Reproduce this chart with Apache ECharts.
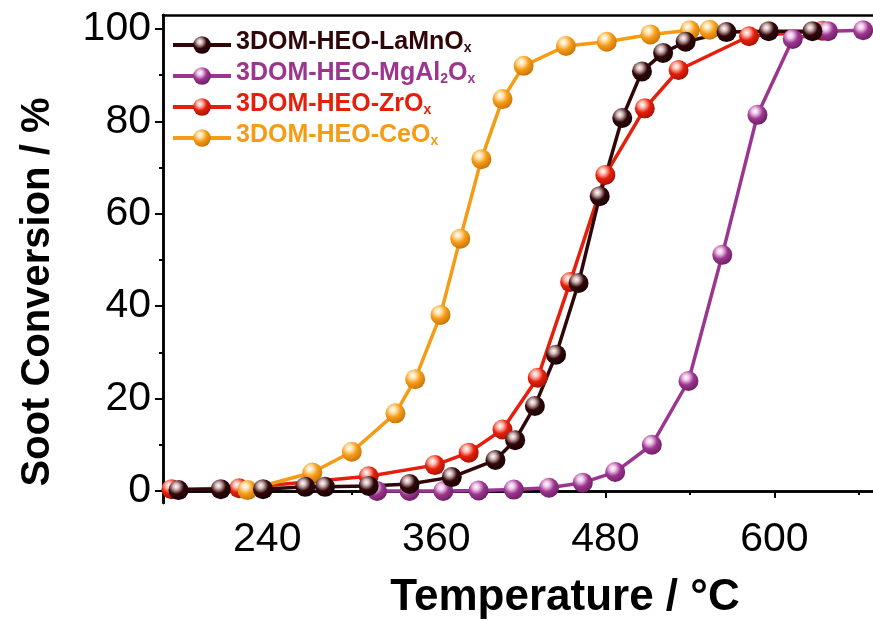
<!DOCTYPE html>
<html>
<head>
<meta charset="utf-8">
<script src="https://cdn.jsdelivr.net/npm/echarts@6/dist/echarts.min.js"></script>
<style>html,body{margin:0;padding:0;background:#fff}#main{width:873px;height:621px}</style>
</head>
<body>
<div id="main"></div>
<script>
// temperatures (°C) and soot conversion (%) for each sample
var tempLaMn = [177, 207, 237, 267, 281, 312, 341, 371, 402, 416, 430, 445, 461, 476, 492, 506, 521, 537, 566, 596, 627];
var convLaMn = [0.2, 0.4, 0.4, 0.9, 0.9, 1.1, 1.5, 3.0, 6.7, 11, 18.4, 29.5, 45, 63.8, 80.7, 90.8, 94.8, 97.2, 99.3, 99.5, 99.5];
var tempMgAl = [318, 341, 365, 390, 415, 440, 464, 487, 513, 539, 563, 588, 613, 638, 663];
var convMgAl = [0, 0, 0, 0.1, 0.3, 0.7, 1.8, 4.1, 10, 23.8, 51.1, 81.4, 97.8, 99.5, 99.7];
var tempZr = [172, 220, 312, 359, 383, 407, 432, 455, 480, 508, 532, 582, 634];
var convZr = [0.4, 0.6, 3.2, 5.6, 8.3, 13.3, 24.5, 45.2, 68.4, 82.8, 91.1, 98.4, 99.6];
var tempCe = [226, 272, 300, 331, 345, 363, 377, 392, 407, 422, 452, 481, 512, 540, 554];
var convCe = [0.2, 4.0, 8.5, 16.8, 24.2, 38.1, 54.6, 71.8, 84.8, 92.0, 96.3, 97.2, 98.8, 99.7, 99.8];

var xMajor = [240, 360, 480, 600];
var xMinor = [180, 300, 420, 540, 660];
var yMajor = [0, 20, 40, 60, 80, 100];
var yMinor = [10, 30, 50, 70, 90];

var names = ['3DOM-HEO-LaMnOx', '3DOM-HEO-MgAl2Ox', '3DOM-HEO-ZrOx', '3DOM-HEO-CeOx'];
var lineColors = ['#300709', '#9c358f', '#e51f0b', '#f59b14'];
var ballLight = ['#d2b4b6', '#efc4e8', '#fdbdb2', '#fde3b0'];
var ballDark = ['#1a0204', '#6e1f64', '#a81204', '#c9740a'];
var FONT = 'Liberation Sans, Arial, sans-serif';

function pairs(xs, ys) {
    return xs.map(function (x, i) { return [x, ys[i]]; });
}

function ball(i) {
    return new echarts.graphic.RadialGradient(0.38, 0.32, 0.7, [
        { offset: 0, color: '#ffffff' },
        { offset: 0.22, color: ballLight[i] },
        { offset: 0.55, color: lineColors[i] },
        { offset: 1, color: ballDark[i] }
    ]);
}

function makeSeries(i, xs, ys) {
    return {
        name: names[i],
        type: 'line',
        data: pairs(xs, ys),
        symbol: 'circle',
        symbolSize: 20,
        lineStyle: { color: lineColors[i], width: 3.5 },
        itemStyle: { color: ball(i), borderWidth: 0 },
        clip: false
    };
}

var legendText = {
    '3DOM-HEO-LaMnOx': '{a0|3DOM-HEO-LaMnO}{s0|x}',
    '3DOM-HEO-MgAl2Ox': '{a1|3DOM-HEO-MgAl}{s1|2}{a1|O}{s1|x}',
    '3DOM-HEO-ZrOx': '{a2|3DOM-HEO-ZrO}{s2|x}',
    '3DOM-HEO-CeOx': '{a3|3DOM-HEO-CeO}{s3|x}'
};
var rich = {};
lineColors.forEach(function (c, i) {
    rich['a' + i] = { color: c, fontSize: 25, fontWeight: 'bold', fontFamily: FONT, verticalAlign: 'bottom', lineHeight: 20 };
    rich['s' + i] = { color: c, fontSize: 14, fontWeight: 'bold', fontFamily: FONT, verticalAlign: 'bottom', lineHeight: 16 };
});

var axisLine = { show: true, lineStyle: { color: '#000', width: 2.5 } };

var myChart = echarts.init(document.getElementById('main'));
var option = {
    animation: false,
    backgroundColor: '#fff',
    grid: { left: 163, right: 0, top: 15, bottom: 118 },
    legend: {
        orient: 'vertical',
        left: 166,
        top: 25,
        itemWidth: 58,
        itemHeight: 22,
        itemGap: 6,
        lineStyle: { width: 4 },
        data: names,
        formatter: function (n) { return legendText[n]; },
        textStyle: { rich: rich }
    },
    xAxis: [
        {
            type: 'value', min: 166, max: 670, position: 'bottom',
            axisLine: axisLine,
            axisTick: { customValues: xMajor, length: 7, lineStyle: { color: '#000', width: 2 } },
            axisLabel: { customValues: xMajor, fontSize: 41, color: '#000', fontFamily: FONT, margin: 16 },
            splitLine: { show: false }
        },
        {
            type: 'value', min: 166, max: 670, position: 'bottom',
            axisLine: axisLine,
            axisTick: { customValues: xMinor, length: 4, lineStyle: { color: '#000', width: 2 } },
            axisLabel: { show: false },
            splitLine: { show: false }
        },
        {
            type: 'value', min: 166, max: 670, position: 'top',
            axisLine: axisLine,
            axisTick: { show: false },
            axisLabel: { show: false },
            splitLine: { show: false }
        }
    ],
    yAxis: [
        {
            type: 'value', min: -2.6, max: 103, position: 'left',
            axisLine: axisLine,
            axisTick: { customValues: yMajor, length: 8, lineStyle: { color: '#000', width: 2 } },
            axisLabel: { customValues: yMajor, fontSize: 41, color: '#000', fontFamily: FONT, margin: 12 },
            splitLine: { show: false }
        },
        {
            type: 'value', min: -2.6, max: 103, position: 'left',
            axisLine: axisLine,
            axisTick: { customValues: yMinor, length: 4, lineStyle: { color: '#000', width: 2 } },
            axisLabel: { show: false },
            splitLine: { show: false }
        }
    ],
    graphic: [
        {
            type: 'text', x: 38, y: 292, rotation: Math.PI / 2,
            style: { text: 'Soot Conversion / %', font: 'bold 40px ' + FONT, fill: '#000', align: 'center', verticalAlign: 'middle' }
        },
        {
            type: 'text', x: 565, y: 598,
            style: { text: 'Temperature / °C', font: 'bold 44px ' + FONT, fill: '#000', align: 'center', verticalAlign: 'middle' }
        }
    ],
    // draw order: red, orange, purple, dark on top
    series: [
        makeSeries(2, tempZr, convZr),
        makeSeries(3, tempCe, convCe),
        makeSeries(1, tempMgAl, convMgAl),
        makeSeries(0, tempLaMn, convLaMn)
    ]
};
myChart.setOption(option);
</script>
</body>
</html>
